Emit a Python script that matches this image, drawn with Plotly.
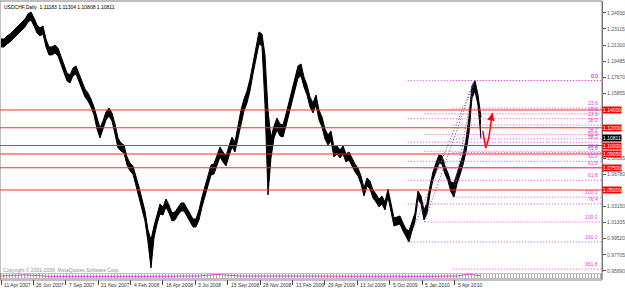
import plotly.graph_objects as go

# ---------------- data ----------------
symbol_title = "USDCHF,Daily  1.11183 1.11304 1.10808 1.10811"
copyright_text = "Copyright \u00a9 2001-2009, MetaQuotes Software Corp."

# price samples every 5 daily bars (bar 0 = 11 Apr 2007)
sample_bars = list(range(0, 805, 5))
bar_high = [1.2199,1.2199,1.2233,1.2255,1.2289,1.2323,1.2356,1.2390,1.2424,1.2480,
            1.2503,1.2435,1.2356,1.2323,1.2345,1.2199,1.2109,1.2109,1.2131,1.2098,
            1.1996,1.1895,1.1816,1.1794,1.1873,1.1895,1.1805,1.1704,1.1636,1.1591,
            1.1524,1.1434,1.1299,1.1198,1.1276,1.1378,1.1423,1.1366,1.1243,1.1085,
            1.1029,1.1006,1.0871,1.0804,1.0770,1.0658,1.0534,1.0399,1.0264,1.0050,
            0.9938,1.0095,1.0230,1.0343,1.0309,1.0399,1.0331,1.0241,1.0253,1.0309,
            1.0354,1.0354,1.0298,1.0230,1.0174,1.0174,1.0275,1.0421,1.0545,1.0646,
            1.0781,1.0793,1.0883,1.0984,1.0928,1.0883,1.0995,1.1096,1.1040,1.1220,
            1.1400,1.1524,1.1614,1.1749,1.1940,1.2131,1.2278,1.2255,1.2019,1.1400,
            1.1085,1.1220,1.1310,1.1243,1.1231,1.1355,1.1490,1.1614,1.1749,1.1895,
            1.1918,1.1771,1.1681,1.1546,1.1479,1.1569,1.1400,1.1321,1.1186,1.1119,
            1.1164,1.0984,1.0995,1.0950,1.0995,1.0905,1.0928,1.0860,1.0793,1.0748,
            1.0658,1.0523,1.0635,1.0601,1.0500,1.0455,1.0399,1.0433,1.0365,1.0511,
            1.0354,1.0185,1.0196,1.0208,1.0129,1.0061,1.0039,1.0129,1.0241,1.0489,
            1.0433,1.0275,1.0354,1.0545,1.0703,1.0804,1.0894,1.0883,1.0770,1.0691,
            1.0590,1.0579,1.0680,1.0781,1.0894,1.1063,1.1321,1.1670,1.1731,1.1569,
            1.1321]
bar_low = [1.2109,1.2109,1.2143,1.2165,1.2199,1.2233,1.2266,1.2300,1.2334,1.2390,
           1.2413,1.2345,1.2266,1.2233,1.2255,1.2109,1.2019,1.2019,1.2041,1.2008,
           1.1906,1.1805,1.1726,1.1704,1.1783,1.1805,1.1715,1.1614,1.1546,1.1501,
           1.1434,1.1344,1.1186,1.1085,1.1186,1.1288,1.1333,1.1276,1.1130,1.0973,
           1.0939,1.0916,1.0781,1.0714,1.0680,1.0545,1.0421,1.0286,1.0151,0.9915,
           0.9623,0.9960,1.0118,1.0230,1.0219,1.0309,1.0241,1.0151,1.0163,1.0219,
           1.0264,1.0264,1.0208,1.0140,1.0084,1.0084,1.0163,1.0309,1.0433,1.0534,
           1.0669,1.0680,1.0770,1.0871,1.0815,1.0770,1.0883,1.0984,1.0928,1.1085,
           1.1265,1.1389,1.1479,1.1614,1.1805,1.1996,1.2143,1.2120,1.1456,1.0444,
           1.0860,1.1085,1.1175,1.1108,1.1096,1.1220,1.1355,1.1479,1.1614,1.1760,
           1.1783,1.1659,1.1569,1.1434,1.1366,1.1456,1.1288,1.1209,1.1074,1.1006,
           1.1051,1.0871,1.0905,1.0860,1.0905,1.0815,1.0838,1.0770,1.0703,1.0658,
           1.0568,1.0433,1.0545,1.0511,1.0410,1.0365,1.0309,1.0343,1.0275,1.0421,
           1.0264,1.0095,1.0106,1.0118,1.0039,0.9971,0.9915,1.0039,1.0151,1.0399,
           1.0343,1.0163,1.0241,1.0455,1.0613,1.0714,1.0804,1.0793,1.0680,1.0601,
           1.0478,1.0421,1.0568,1.0669,1.0781,1.0928,1.1141,1.1535,1.1614,1.1456,
           1.1081]

date_labels = ["11 Apr 2007","26 Jun 2007","7 Sep 2007","21 Nov 2007","4 Feb 2008",
               "18 Apr 2008","3 Jul 2008","15 Sep 2008","28 Nov 2008","13 Feb 2009",
               "29 Apr 2009","13 Jul 2009","5 Oct 2009","5 Jan 2010","5 Apr 2010"]
date_bars = [0,54,108,162,216,270,324,378,432,486,540,594,648,702,756]

# visible price-scale labels (others are hidden under the line boxes)
price_ticks = ["1.24930","1.23115","1.21300","1.19485","1.17670","1.15855",
               "1.08595","1.06780","1.03150","1.01335",
               "0.99520","0.97705","0.95890"]

# horizontal support/resistance lines
hlines = [1.1400, 1.1200, 1.1000, 1.0905, 1.0750, 1.0500]
hline_labels = ["1.14000","1.12000","1.10000","1.09050","1.07500","1.05000"]
bid_price = 1.10811

# fibonacci retracements: (start bar, low price, levels) up to the common high
fib_high_bar, fib_high = 789, 1.1731
fib_sets = [
    (678, 0.9915, [0.0, 23.6, 38.2, 50.0, 61.8, 76.4, 100.0]),
    (706, 1.0140, [23.6, 38.2, 50.0, 61.8, 100.0]),
    (753, 1.0420, [0.0, 23.6, 38.2, 50.0, 61.8, 100.0, 161.8]),
]

# hand-drawn projection arrow
proj_bars = [803, 808, 813, 819]
proj_prices = [1.1165, 1.0972, 1.1085, 1.1366]

# tiny indicator sub-window line
strip_bars = [0, 40, 80, 150, 250, 330, 360, 400, 500, 600, 700, 760, 780, 800]
strip_vals = [0.5, 0.7, 0.45, 0.5, 0.45, 0.5, 0.75, 0.5, 0.45, 0.5, 0.45, 0.5, 0.8, 0.5]

# ---------------- figure ----------------
X_MIN, X_MAX = -1.66, 1001.7
Y_MIN, Y_MAX = 0.95775, 1.2626
FONT = "Liberation Sans"
PINK = "#E040E0"
RED = "#FF2A2A"

fig = go.Figure()

# price band
fig.add_trace(go.Scatter(x=sample_bars, y=bar_low, mode="lines",
                         line=dict(color="black", width=1), hoverinfo="skip"))
fig.add_trace(go.Scatter(x=sample_bars, y=bar_high, mode="lines", fill="tonexty",
                         fillcolor="black", line=dict(color="black", width=1), hoverinfo="skip"))

shapes = []
annotations = []

# red horizontal lines + axis boxes
for p, lab in zip(hlines, hline_labels):
    shapes.append(dict(type="line", xref="paper", x0=0, x1=1, yref="y", y0=p, y1=p,
                       line=dict(color=RED, width=1)))
    annotations.append(dict(xref="paper", x=1, xanchor="left", yref="y", y=p, yanchor="middle",
                            text=lab, showarrow=False, bgcolor="#FF0000", borderpad=0,
                            font=dict(family=FONT, size=5, color="white")))

# fibonacci levels
for start_bar, low, levels in fib_sets:
    rng = fib_high - low
    for lv in levels:
        p = fib_high - rng * lv / 100.0
        shapes.append(dict(type="line", xref="x", x0=start_bar, x1=X_MAX, yref="y", y0=p, y1=p,
                           line=dict(color=PINK, width=1, dash="1px,2px")))
        annotations.append(dict(xref="paper", x=1, xanchor="right", xshift=-2, yref="y", y=p,
                                yanchor="bottom", text="%.1f" % lv, showarrow=False,
                                font=dict(family=FONT, size=5, color=PINK)))
    fig.add_trace(go.Scatter(x=[start_bar, fib_high_bar], y=[low, fib_high], mode="lines",
                             line=dict(color="#50509a", width=1, dash="1px,2px"), hoverinfo="skip"))

# bid box
annotations.append(dict(xref="paper", x=1, xanchor="left", yref="y", y=bid_price, yanchor="middle",
                        text="1.10811", showarrow=False, bgcolor="black", borderpad=0,
                        font=dict(family=FONT, size=5, color="white")))

# projection arrow
fig.add_trace(go.Scatter(x=proj_bars, y=proj_prices, mode="lines",
                         line=dict(color="#FF0000", width=1.5), hoverinfo="skip"))
annotations.append(dict(x=proj_bars[-1], y=proj_prices[-1], xref="x", yref="y",
                        ax=proj_bars[-2] + 3, ay=proj_prices[-2] + 0.018, axref="x", ayref="y",
                        showarrow=True, arrowhead=2, arrowsize=1, arrowwidth=1.5,
                        arrowcolor="#FF0000", text=""))

# indicator strip
fig.add_trace(go.Scatter(x=strip_bars, y=strip_vals, yaxis="y2", mode="lines",
                         line=dict(color=PINK, width=1), hoverinfo="skip"))
shapes.append(dict(type="line", xref="paper", x0=0, x1=1, yref="y2", y0=0.5, y1=0.5,
                   line=dict(color="#aaaaaa", width=4, dash="1px,2px"), layer="below"))
shapes.append(dict(type="rect", xref="paper", x0=0, x1=1, yref="y2", y0=0, y1=1,
                   line=dict(color="#808080", width=1)))

# date labels
for b, lab in zip(date_bars, date_labels):
    annotations.append(dict(xref="x", x=b, xanchor="left", xshift=1, yref="paper", y=-0.018,
                            yanchor="middle", text=lab, showarrow=False,
                            font=dict(family=FONT, size=5, color="#333333")))

# title and copyright
annotations.append(dict(xref="paper", x=0, xanchor="left", xshift=2, yref="paper", y=1,
                        yanchor="top", yshift=-1, text=symbol_title, showarrow=False,
                        font=dict(family=FONT, size=5, color="black")))
annotations.append(dict(xref="paper", x=0, xanchor="left", xshift=1, yref="paper", y=0.036,
                        yanchor="middle", text=copyright_text, showarrow=False,
                        font=dict(family=FONT, size=5, color="#909090")))

# outer frame
shapes.append(dict(type="rect", xref="paper", x0=0, x1=1, yref="paper", y0=0, y1=1,
                   line=dict(color="#808080", width=1)))

fig.update_layout(
    width=625, height=291,
    margin=dict(l=0, r=20, t=1, b=11),
    plot_bgcolor="white", paper_bgcolor="white",
    showlegend=False,
    font=dict(family=FONT, size=5),
    xaxis=dict(range=[X_MIN, X_MAX], anchor="y2", showgrid=False, zeroline=False,
               tickvals=date_bars, ticktext=[""] * len(date_bars), ticks="outside",
               ticklen=5, tickcolor="#444444", showline=False),
    yaxis=dict(domain=[0.0287, 1], range=[Y_MIN, Y_MAX], side="right", anchor="x",
               tickvals=[float(t) for t in price_ticks], ticktext=price_ticks,
               ticks="outside", ticklen=3, tickcolor="#555555",
               tickfont=dict(family=FONT, size=5, color="#555555"),
               showgrid=False, zeroline=False, showline=True, linecolor="#666666", linewidth=1),
    yaxis2=dict(domain=[0.0036, 0.0251], range=[0, 1], anchor="x", showticklabels=False,
                showgrid=False, zeroline=False),
    shapes=shapes,
    annotations=annotations,
)

fig.write_html("out.html")
